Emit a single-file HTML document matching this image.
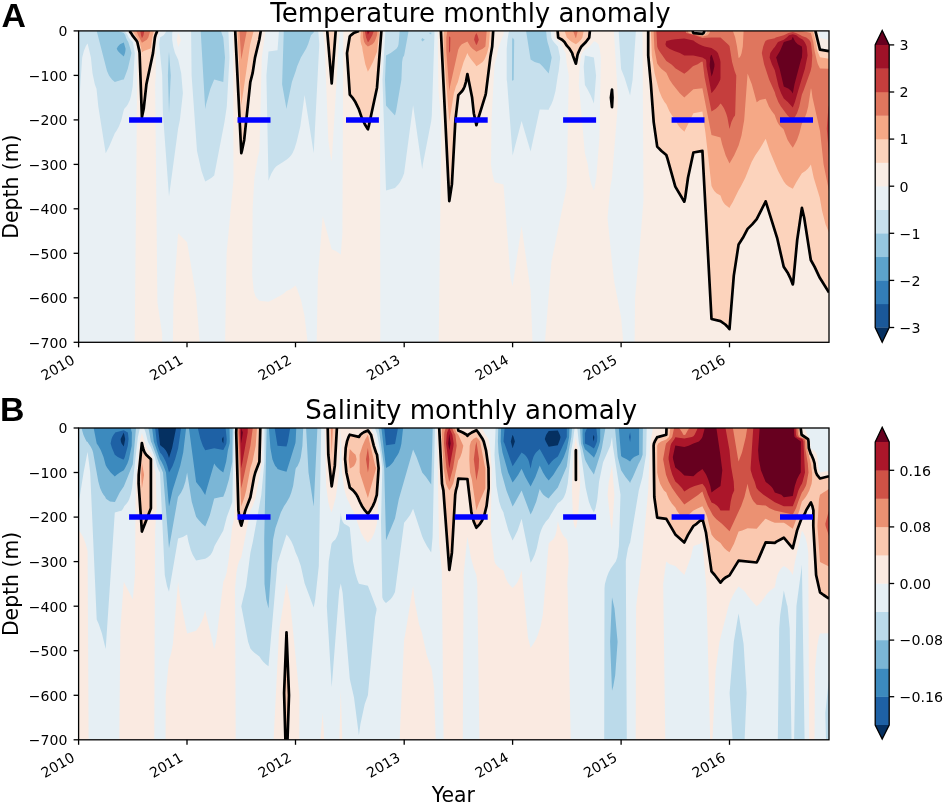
<!DOCTYPE html>
<html lang="en"><head><meta charset="utf-8"><title>Temperature and salinity monthly anomaly</title>
<style>html,body{margin:0;padding:0;background:#fff}svg{display:block}</style></head>
<body>
<svg width="945" height="804" viewBox="0 0 945 804" font-family="'DejaVu Sans','Liberation Sans',sans-serif" fill="#000">
<defs>
<clipPath id="clipA"><rect x="78.6" y="30.9" width="750.4" height="311.4"/></clipPath>
<clipPath id="clipB"><rect x="78.6" y="428.0" width="750.4" height="311.8"/></clipPath>
</defs>
<rect width="945" height="804" fill="#fff"/>
<g clip-path="url(#clipA)">
<rect x="78.6" y="30.9" width="750.4" height="311.4" fill="#f9ede5"/>
<path d="M78.6,30.9 126.6,30.9 128.7,33.1 131.5,37.6 133.6,39.8 135.1,42 136.9,50.9 137.2,53.1 136.6,142.1 134.7,342.3 78.6,342.3 78.6,33.1ZM159.4,33.1 160,32 161,30.9 233.1,30.9 233.5,179.9 226.6,253.3 225.1,342.3 199.7,342.3 196,295.6 187.1,242.2 178.1,233.3 173.5,297.8 172.9,342.3 162.2,342.3 162.1,333.4 157.4,302.3 155.1,84.3 155.8,75.4 155.7,62 156.6,44.2 157.4,37.6 158.3,35.3ZM178.1,33.1 176.7,39.8 178.1,47 178.5,46.5 180.3,42 181,39.8 179.3,35.3ZM265.6,30.9 322.7,30.9 324.7,44.2 328.3,139.9 330.4,155.5 331.7,161.5 339.6,30.9 343.3,30.9 342.4,233.3 340.8,254.8 339.1,253.3 335.9,251.1 331.7,249.3 322.7,216.3 317.9,275.6 316.7,342.3 307.6,342.3 304.5,315.6 301,300 297.1,288.9 295.6,285.5 291,288.9 286.5,291.1 283.8,293.4 280.6,295.6 272.2,300 268.5,301.8 259.4,300.7 256.5,297.8 255.2,295.6 253.8,291.1 252.2,275.6 252.6,208.8 254.4,177.7 257.7,157.7 259.4,151 261.8,57.6 265.3,33.1ZM383.4,30.9 437.6,30.9 438.5,91 441.4,124.3 438.7,342.3 380.3,342.3 380,79.8 383.2,33.1ZM504,30.9 554.2,30.9 554.6,37.6 556.4,39.8 559.3,42 561.3,44.2 562.6,46.5 564.4,50.9 565.6,53.1 566.8,64.3 568.8,75.4 566.7,186.6 551.4,262.2 544.9,342.3 532.5,342.3 530.6,290.8 521.6,226.3 512.6,286.3 510.5,277.8 503.5,184.4 494.5,182.2 492.3,173.3 491,164.4 491.5,119.9 494.5,64.3 496.6,57.6 498.2,48.7 502.1,37.6 503.5,34.5 503.7,33.1ZM613.9,30.9 642.5,30.9 643.5,199.9 640.5,237.8 635.1,297.8 634.6,342.3 623.3,342.3 621.1,317.5 614.3,282.2 612,262.2 607.5,217.7 610.4,186.6 612,177.7 617.7,106.5 617.9,97.6 614,33.1ZM818.3,30.9 829,30.9 829,40 820,38.1 818.9,33.1ZM593.3,42 593.9,41.2 595.9,42 598.5,44.2 599.7,48.7 600.9,57.6 599.4,137.7 596.3,177.7 593.9,190.4 591.4,184.4 589.2,175.5 587.8,164.4 584.9,153.2 578.8,84.3 579.8,64.3 581.2,55.4 582.3,53.1 584.9,49.5 586.6,48.7 589.6,46.5 591.6,44.2Z" fill="#e9f0f4" fill-rule="evenodd"/>
<path d="M78.6,30.9 123.8,30.9 126.2,33.1 127.7,35.3 128.7,37.6 130.5,39.8 132.9,42 134.8,53.1 132.7,86.5 131.1,95.4 129.9,99.9 127.9,104.3 126.4,106.5 124.3,108.8 123.5,111 121.4,119.9 118.9,126.5 116.4,131 114.8,133.2 109.2,146.6 105.7,153.2 98.3,106.5 96.5,88.7 94.8,84.3 92.5,73.2 90.9,57.6 87.6,43.6 87,44.2 85.7,46.5 83.9,50.9 82.2,57.6 78.6,111 78.6,33.1ZM166.4,30.9 172.8,30.9 172.2,33.1 172.2,39.8 173.2,46.5 175,53.1 178.2,59.8 181.2,73.2 182.9,93.2 179.9,119.9 178.1,128.8 169,196.6 162.9,113.2 162.2,75.4 159.2,44.2 160,37.6 163.6,35.3 165.3,33.1ZM191.1,30.9 228.4,30.9 229.5,57.6 226.8,106.5 224.5,122.1 214.2,175.5 211.6,177.7 208,179.9 205.2,181.4 201.5,171 197,151 191.6,75.4 191.1,33.1ZM278.9,30.9 318.3,30.9 319.3,44.2 313.7,153.2 304.6,95 300.3,126.5 296.6,142.1 294.5,148.8 292.5,153.2 291,155.5 288.9,157.7 286.5,159.7 286,159.9 283.1,162.1 277.5,165.4 276.1,166.6 274.2,168.8 271.5,173.3 269.6,177.7 268.5,180.7 266.4,75.4 268.5,51.4 277.5,50.3 278.8,33.1ZM385.4,30.9 434.2,30.9 434.5,33.1 431.8,115.4 431.2,121.3 422.8,164.4 422.2,169.3 413.1,105.3 404.1,173.3 402.4,177.7 400,182.2 398.3,184.4 395,187.9 386,190.5 382.5,79.8 385.3,33.1ZM509.1,30.9 550.8,30.9 551.3,37.6 552.2,39.8 553.8,42 557.9,46.5 560.2,57.6 558.7,70.9 557.8,75.4 555.5,91 553.1,99.9 551.4,104.3 549,108.8 548.7,109.7 539.7,109.6 530.6,151.5 521.6,120.9 512.6,155.5 507.1,82.1 506.7,79.8 506.7,48.7 507.5,39.8 508.6,33.1ZM618.7,30.9 635.9,30.9 632.6,79.8 630.1,95.4 624.5,77.6 621.1,69.1 618.8,33.1ZM584.9,55.4 584.9,55.4 593.9,57.6 596.1,75.4 593.9,103.4 590.7,95.4 587.2,88.7 584.9,85.1 583.7,66.5 584.7,57.6Z" fill="#c7e0ed" fill-rule="evenodd"/>
<path d="M96.7,30.9 118.5,30.9 123.8,33.1 125.3,35.3 125.9,37.6 126.9,39.8 128.3,42 130.4,48.7 131.5,53.1 127.8,68.7 123.8,79.5 122,79.8 114.8,82.1 114.8,82.1 112.2,79.8 110.4,77.6 109,75.4 107,70.9 96.7,30.9ZM200.7,30.9 221,30.9 222.4,35.3 223.3,37.6 225,57.6 223.3,82.1 214.2,79.4 210.4,88.7 206.1,104.3 205.2,109 200.8,33.1ZM283.7,30.9 313.9,30.9 313.7,32.4 311,35.3 308.1,44.2 306.1,48.7 300.9,57.6 297.1,66.5 295.6,71.4 291.9,82.1 286.9,106.5 286.5,108.9 282.1,84.3 283.7,33.1ZM399.6,30.9 408.6,30.9 404.6,53.1 404.1,55.4 402.9,57.6 402.1,62 401.4,79.8 396.1,111 395,115.4 388.8,108.8 386,105.4 385,79.8 386,55.4 390.7,53.1 396.4,48.7 397.9,46.5 398.5,44.2 399.5,33.1ZM428.8,33.1 431.2,32.4 431.4,33.1 431.2,34.6ZM526.1,30.9 546.1,30.9 546.7,37.6 547.5,42 548.9,46.5 551.7,57.6 548.7,73.5 542.7,66.5 539.7,63.5 534.6,62 530.6,59.5 526.4,33.1ZM512.6,37.6 512.6,37.6 514.2,39.8 513.7,79.8 512.6,80.9 512,79.8 512.1,39.8ZM421.3,39.8 422.2,38 424.8,39.8 422.2,41.6ZM168.9,53.1 169,51.9 170.8,75.4 169,113.2 167.9,75.4 168.7,55.4Z" fill="#96c7df" fill-rule="evenodd"/>
<path d="M539.7,30.9 539.7,30.9 539.7,30.9 539.7,30.9ZM120,44.2 123.8,42.4 125.6,48.7 125.4,50.9 125,53.1 123.8,56.4 119.8,53.1 117.9,50.9 116.7,48.7 117.9,46.5Z" fill="#5ca3cb" fill-rule="evenodd"/>
<path d="M129.5,30.9 157.3,30.9 155.5,35.3 154.9,37.6 153,53.1 146.4,84.3 143.7,108.8 141.9,117.2 139.6,53.1 139.3,50.9 137.3,42 135.9,39.8 132.4,35.3 131.1,33.1ZM235.2,30.9 260.8,30.9 259.3,39.8 255,57.6 252.6,73.2 250.3,82.1 244.2,139.9 241.9,151 241.3,153.2 235.3,33.1ZM327.2,30.9 335.7,30.9 331.7,83.5 327.5,33.1ZM353.6,33.1 358.9,30.9 381.4,30.9 377,87.7 368.7,126.5 367.9,129.3 364.8,124.3 361.7,117.6 358.7,108.8 355.4,102.1 352.4,97.6 349.8,94.7 347,53.1 349.8,36.3 350.7,35.3ZM440.9,30.9 493.2,30.9 492.2,46.5 490.3,57.6 485.9,93.2 485.4,95.4 477.8,119.9 476.4,125.1 473.8,113.2 472.1,97.6 467.4,74 465.9,82.1 464.6,86.5 463.6,88.7 462.2,91 458.3,95.1 455.4,119.9 451.9,184.4 449.3,201.1 440.9,33.1ZM557.6,30.9 589.9,30.9 589.2,37.6 585.9,42 581.4,46.5 580.1,48.7 578.1,53.1 577.4,55.4 575.9,63.7 572.8,55.4 572.2,53.1 569.5,48.7 566.8,45.7 564.5,42 562.1,39.8 558.2,37.6 557.7,33.1ZM648.2,30.9 692.5,30.9 693.4,33.1 702.4,33.8 703.5,33.1 704.6,30.9 815.4,30.9 820,49.7 829,51.2 829,292.5 819.8,277.8 814.5,266.7 810.8,260 804.2,217.7 801.9,207.9 797.2,240 793.2,282.2 792.8,284.5 790.2,277.8 788,273.3 783.7,266.7 777.1,237.8 765.7,201.3 756.7,219.1 752.2,224.4 747.6,228.9 742.9,237.8 738.6,244.4 733.8,275.6 729.5,329.2 727.5,326.7 725.3,324.5 720.5,321.1 711.5,319 702.4,150.8 693.4,152.5 688,177.7 685.2,197.7 684.3,201.7 675.3,186.6 667.2,157.7 666.3,155 661.5,151 657.2,146.6 653.7,122.1 650.9,84.3 648.2,55.4 648.2,33.1ZM611.8,91 612,89.6 612.5,97.6 612,107.2 610.9,97.6 611.4,93.2Z" fill="#fcd3bc" fill-rule="evenodd"/>
<path d="M132.3,30.9 153.9,30.9 152.3,37.6 150.9,48.1 150,48.7 143.6,50.9 141.9,52.4 141.8,50.9 139.5,42 133.9,33.1 132.8,31.8ZM237.3,30.9 253.7,30.9 250.2,44.2 241.3,105.2 237.4,33.1ZM360.9,30.9 379.4,30.9 377,51.7 373,62 369.6,68.7 368.2,70.9 367.9,71.8 365.3,64.3 362.7,50.9 362.1,46.5 361.2,44.2 360.7,42 360.3,37.6 360.7,33.1ZM444.1,30.9 490,30.9 488.8,46.5 487.1,53.1 485.4,57.6 484.3,59.8 482.6,62 479.5,64.3 476.4,66.2 475.1,64.3 471.4,59.8 468.5,55.4 467.4,53.1 463.6,62 460.2,73.2 457.9,82.1 455.9,86.5 453.9,93.2 449.3,121.7 443.7,50.9 443.6,37.6 443.9,33.1ZM564.6,30.9 583.7,30.9 582.4,37.6 581,39.8 578.8,42 575.9,44.2 572,42 569.1,39.8 566.8,37.6 565.3,33.1ZM650.9,30.9 690.2,30.9 691,33.1 693.4,33.8 702.4,35.5 703.2,35.3 706.5,33.1 707.4,30.9 812.6,30.9 813.6,33.1 815.8,42 817.4,50.9 820,57.3 829,58.7 829,232.6 825.6,224.4 822.1,211.1 819.8,197.7 813.7,177.7 810.9,164.4 809.6,166.6 807.8,168.8 805.4,171 801.9,173.3 796.3,182.2 792.8,188.8 788.6,186.6 786.1,184.4 783.8,181.5 778.1,171 769.7,151 765.7,138.8 759.8,148.8 755.2,155.5 751.6,162.1 745.3,177.7 740.8,186.6 738.2,191 732.7,202.2 730.1,206.6 729.5,208.1 725,204.4 723.3,202.2 722.1,199.9 720.5,195.5 716.5,193.3 714.3,191 712.9,188.8 711.5,185.9 705.5,133.2 702.4,111.6 693.4,113.2 685.8,128.8 684.3,131.8 683.7,131 681.1,128.8 679.1,126.5 677.6,124.3 675.3,119.6 672,115.4 669.3,111 666.3,104.3 664.5,102.1 661.9,97.6 659.2,91 654.6,73.2 651.8,55.4 651,33.1Z" fill="#f5a886" fill-rule="evenodd"/>
<path d="M136.1,30.9 150.3,30.9 148.3,37.6 146.8,39.8 141.9,42.8 141.6,42 138.1,35.3 137.3,33.1ZM239.4,30.9 246.8,30.9 241.3,59.5 239.6,33.1ZM362.9,30.9 377.4,30.9 377,35.3 375.4,39.8 374.4,42 372.4,44.2 367.9,46.5 365.5,44.2 364.2,42 363.2,37.6 363,33.1ZM447.3,30.9 486.7,30.9 485.4,46.5 482.7,48.7 477.9,50.9 476.4,51.8 475.6,50.9 472.5,48.7 470.4,46.5 467.4,41.4 461.8,44.2 459.8,46.5 458.3,49.5 450,86.5 449.3,91.3 446.3,50.9 446.3,37.6 447,33.1ZM573.1,30.9 577.7,30.9 576.2,37.6 575.9,38.1 575.4,37.6 573.9,33.1ZM653.7,30.9 688,30.9 688.5,33.1 693.4,34.4 698.5,35.3 702.4,36.6 707.7,35.3 709.5,33.1 710.1,30.9 732.9,30.9 735.2,37.6 737,46.5 738.6,58 739.5,57.6 740.8,55.4 741.6,53.1 742.8,46.5 743.6,30.9 801.9,30.9 810.9,33.1 813.3,42 814.6,50.9 817.2,62 817.9,64.3 820,68.4 829,68.7 829,191 823.6,164.4 820,131 812.5,97.6 811.6,91 811.2,88.7 810.9,88.4 808.2,106.5 806.5,113.2 804.9,117.6 801.7,124.3 799.4,133.2 797,139.9 794.8,144.3 792.8,147.7 790.3,144.3 787.6,139.9 785,133.2 783.8,129.7 783.1,128.8 780.5,126.5 778.7,124.3 777.4,122.1 775.6,117.6 774.8,114.9 771.7,111 768.9,106.5 765.7,98.7 759.9,99.9 756.7,102.3 751.8,84.3 747.6,73.6 744.2,119.9 741.5,135.4 738.6,145.4 734.1,155.5 729.5,163.6 725.7,155.5 722.1,144.3 720.5,137.4 711.5,134.9 702.4,88.2 693.4,89.2 684.3,97.6 679.8,93.2 672.6,84.3 669.6,79.8 666.3,72.7 661.3,68.7 659.3,66.5 657.2,63.5 654.4,48.7 653.7,33.1Z" fill="#df765e" fill-rule="evenodd"/>
<path d="M140.2,30.9 144.3,30.9 143.5,35.3 142.4,37.6 141.9,38 141,35.3 140.7,33.1ZM364.9,30.9 373.8,30.9 372.3,35.3 369.8,39.8 368.3,42 367.9,42.3 366.1,37.6 365.2,33.1ZM656.4,30.9 685.7,30.9 686.1,33.1 695.1,35.3 702.4,38 711.5,37.6 720.5,37.6 727.9,44.2 729.5,46 732.1,62 734.6,70.9 736.3,75.4 735.2,113.2 735,115.4 733.5,117.6 731.4,122.1 729.5,129 727.4,117.6 726.1,113.2 724.2,108.8 722.9,106.5 721.3,104.3 720.5,103.6 718.2,106.5 715.8,108.8 711.5,111.5 704.6,77.6 702.7,62 702.4,61.4 701,62 697.7,64.3 693.4,66 692.6,66.5 687.9,70.9 684.3,73.7 675.3,68.3 673.7,66.5 671.2,64.3 666.3,61 659.3,50.9 658,48.7 657.2,46.5 656.5,33.1ZM788.4,33.1 792.8,32.1 796,33.1 800.8,35.3 801.9,36.1 806.3,37.6 809.1,39.8 810.6,42 811.1,44.2 812.3,55.4 811.6,66.5 810.6,70.9 803.4,91 801.9,94.4 799.3,106.5 797,113.2 794.7,117.6 792.8,120.6 792.3,119.9 789.7,117.6 787.6,115.4 780.9,106.5 778.3,102.1 775.7,95.4 774.8,92.3 769.2,79.8 764.1,64.3 761.8,53.1 763.2,46.5 764.9,42 765.7,40.8 767.7,39.8 774.8,38.2 775.7,37.6 783.8,35.3ZM475.2,35.3 476.4,33.1 477.5,35.3 478.8,39.8 477,44.2 476.4,44.9 475.9,44.2 474.1,39.8 474.5,37.6ZM449,37.6 449.3,36.2 450.4,37.6 450.1,50.9 449.3,53.1 449,50.9 449,39.8ZM828.7,106.5 829,105.6 829,155.5 826.8,128.8 828.1,111 828.4,108.8Z" fill="#c53e3d" fill-rule="evenodd"/>
<path d="M366.9,30.9 369.9,30.9 367.9,34.8 367.4,33.1ZM789,35.3 792.8,34.2 796.3,35.3 799,37.6 802.9,39.8 804.6,42 805.8,44.2 806.7,46.5 807.6,55.4 804.9,68.7 801.5,79.8 798.1,91 794.9,102.1 792.8,107.4 787.8,102.1 783.8,98.5 781.1,93.2 778.6,86.5 774.8,70.3 771.9,64.3 769.6,57.6 770.3,53.1 773.2,48.7 774.8,47.1 778,42 783.8,39.8 786.7,37.6ZM671.8,39.8 675.3,39.2 684.3,38.5 693.4,40.6 695.3,42 699,44.2 702.4,45.8 704.5,46.5 711.5,48 716.1,50.9 717.9,53.1 720.1,59.8 720.5,62 720.5,77.6 720.3,79.8 718,84.3 715.2,88.7 711.5,93.2 706.5,66.5 706.3,62 706,59.8 702.4,57.6 693.4,55.4 684.3,55.4 679.9,53.1 674.3,50.9 669.4,48.7 666.3,46.5 665.4,44.2 666.3,41Z" fill="#9f1228" fill-rule="evenodd"/>
<path d="M792.4,37.6 792.8,37.1 793.2,37.6 794.2,39.8 795.5,42 797.7,44.2 801.9,46.5 802.3,50.9 801.9,57.6 801,59.8 794.5,84.3 792.8,93.4 791.2,91 788.7,88.7 783.8,86.5 779.6,68.7 777.4,62 776.9,59.8 776.1,57.6 780,50.9 782.9,44.2 783.8,42 791.6,39.8ZM710.8,55.4 711.5,54.7 711.9,55.4 714,62 714.5,64.3 714.4,66.5 712.8,73.2 711.5,76.6 709.8,66.5 709.7,64.3 710.2,59.8 710.1,57.6Z" fill="#67001f" fill-rule="evenodd"/>
<path d="M157.3,30.9 155.5,35.3 154.9,37.6 153,53.1 146.4,84.3 143.7,108.8 141.9,117.2 139.6,53.1 139.3,50.9 137.3,42 135.9,39.8 132.4,35.3 131.1,33.1 129.5,30.9M260.8,30.9 259.3,39.8 255,57.6 252.6,73.2 250.3,82.1 244.2,139.9 241.9,151 241.3,153.2 235.2,30.9M335.7,30.9 331.7,83.5 327.2,30.9M381.4,30.9 377,87.7 368.7,126.5 367.9,129.3 364.8,124.3 361.7,117.6 358.7,108.8 355.4,102.1 352.4,97.6 349.8,94.7 347,53.1 349.8,36.3 350.7,35.3 353.6,33.1 358.9,30.9M493.2,30.9 492.2,46.5 490.3,57.6 485.9,93.2 485.4,95.4 477.8,119.9 476.4,125.1 473.8,113.2 472.1,97.6 467.4,74 465.9,82.1 464.6,86.5 463.6,88.7 462.2,91 458.3,95.1 455.4,119.9 451.9,184.4 449.3,201.1 440.9,30.9M589.9,30.9 589.2,37.6 585.9,42 581.4,46.5 580.1,48.7 578.1,53.1 577.4,55.4 575.9,63.7 572.8,55.4 572.2,53.1 569.5,48.7 566.8,45.7 564.5,42 562.1,39.8 558.2,37.6 557.6,30.9M692.5,30.9 693.4,33.1 702.4,33.8 703.5,33.1 704.6,30.9M815.4,30.9 820,49.7 829,51.2M611.8,91 612,89.6 612.5,97.6 612,107.2 610.9,97.6 611.8,91M829,292.5 819.8,277.8 814.5,266.7 810.8,260 804.2,217.7 801.9,207.9 797.2,240 793.2,282.2 792.8,284.5 790.2,277.8 788,273.3 783.7,266.7 777.1,237.8 765.7,201.3 756.7,219.1 752.2,224.4 747.6,228.9 742.9,237.8 738.6,244.4 733.8,275.6 729.5,329.2 727.5,326.7 725.3,324.5 720.5,321.1 711.5,319 702.4,150.8 693.4,152.5 688,177.7 685.2,197.7 684.3,201.7 675.3,186.6 667.2,157.7 666.3,155 661.5,151 657.2,146.6 653.7,122.1 650.9,84.3 648.2,55.4 648.2,30.9" fill="none" stroke="#000" stroke-width="2.7" stroke-linejoin="round"/>
<line x1="129.1" y1="119.9" x2="162.1" y2="119.9" stroke="#0000ff" stroke-width="5.5"/>
<line x1="237.5" y1="119.9" x2="270.5" y2="119.9" stroke="#0000ff" stroke-width="5.5"/>
<line x1="346.0" y1="119.9" x2="378.9" y2="119.9" stroke="#0000ff" stroke-width="5.5"/>
<line x1="454.7" y1="119.9" x2="487.7" y2="119.9" stroke="#0000ff" stroke-width="5.5"/>
<line x1="563.1" y1="119.9" x2="596.1" y2="119.9" stroke="#0000ff" stroke-width="5.5"/>
<line x1="671.6" y1="119.9" x2="704.5" y2="119.9" stroke="#0000ff" stroke-width="5.5"/>
<line x1="780.0" y1="119.9" x2="813.0" y2="119.9" stroke="#0000ff" stroke-width="5.5"/>
</g>
<rect x="78.6" y="30.9" width="750.4" height="311.4" fill="none" stroke="#000" stroke-width="1.3"/>
<line x1="73.6" y1="30.9" x2="78.6" y2="30.9" stroke="#000" stroke-width="1.3"/>
<text x="67.4" y="36.2" text-anchor="end" font-size="14.05">0</text>
<line x1="73.6" y1="75.4" x2="78.6" y2="75.4" stroke="#000" stroke-width="1.3"/>
<text x="67.4" y="80.7" text-anchor="end" font-size="14.05">−100</text>
<line x1="73.6" y1="119.9" x2="78.6" y2="119.9" stroke="#000" stroke-width="1.3"/>
<text x="67.4" y="125.2" text-anchor="end" font-size="14.05">−200</text>
<line x1="73.6" y1="164.4" x2="78.6" y2="164.4" stroke="#000" stroke-width="1.3"/>
<text x="67.4" y="169.7" text-anchor="end" font-size="14.05">−300</text>
<line x1="73.6" y1="208.8" x2="78.6" y2="208.8" stroke="#000" stroke-width="1.3"/>
<text x="67.4" y="214.1" text-anchor="end" font-size="14.05">−400</text>
<line x1="73.6" y1="253.3" x2="78.6" y2="253.3" stroke="#000" stroke-width="1.3"/>
<text x="67.4" y="258.6" text-anchor="end" font-size="14.05">−500</text>
<line x1="73.6" y1="297.8" x2="78.6" y2="297.8" stroke="#000" stroke-width="1.3"/>
<text x="67.4" y="303.1" text-anchor="end" font-size="14.05">−600</text>
<line x1="73.6" y1="342.3" x2="78.6" y2="342.3" stroke="#000" stroke-width="1.3"/>
<text x="67.4" y="347.6" text-anchor="end" font-size="14.05">−700</text>
<line x1="78.6" y1="342.3" x2="78.6" y2="347.3" stroke="#000" stroke-width="1.3"/>
<text transform="translate(75.7,362.9) rotate(-30)" text-anchor="end" font-size="14.05">2010</text>
<line x1="187.0" y1="342.3" x2="187.0" y2="347.3" stroke="#000" stroke-width="1.3"/>
<text transform="translate(184.1,362.9) rotate(-30)" text-anchor="end" font-size="14.05">2011</text>
<line x1="295.5" y1="342.3" x2="295.5" y2="347.3" stroke="#000" stroke-width="1.3"/>
<text transform="translate(292.6,362.9) rotate(-30)" text-anchor="end" font-size="14.05">2012</text>
<line x1="404.2" y1="342.3" x2="404.2" y2="347.3" stroke="#000" stroke-width="1.3"/>
<text transform="translate(401.3,362.9) rotate(-30)" text-anchor="end" font-size="14.05">2013</text>
<line x1="512.6" y1="342.3" x2="512.6" y2="347.3" stroke="#000" stroke-width="1.3"/>
<text transform="translate(509.7,362.9) rotate(-30)" text-anchor="end" font-size="14.05">2014</text>
<line x1="621.1" y1="342.3" x2="621.1" y2="347.3" stroke="#000" stroke-width="1.3"/>
<text transform="translate(618.2,362.9) rotate(-30)" text-anchor="end" font-size="14.05">2015</text>
<line x1="729.5" y1="342.3" x2="729.5" y2="347.3" stroke="#000" stroke-width="1.3"/>
<text transform="translate(726.6,362.9) rotate(-30)" text-anchor="end" font-size="14.05">2016</text>
<text transform="translate(18.3,186.6) rotate(-90)" text-anchor="middle" font-size="20.4">Depth (m)</text>
<text x="470.5" y="21.6" text-anchor="middle" font-size="26">Temperature monthly anomaly</text>
<text x="1.6" y="27.1" font-size="33.8" font-weight="bold" font-family="'Liberation Sans',Arial,Helvetica,sans-serif">A</text>
<rect x="875.2" y="303.75" width="14.0" height="23.95" fill="#1a5899"/>
<rect x="875.2" y="280.20" width="14.0" height="23.95" fill="#337eb8"/>
<rect x="875.2" y="256.65" width="14.0" height="23.95" fill="#5ca3cb"/>
<rect x="875.2" y="233.10" width="14.0" height="23.95" fill="#96c7df"/>
<rect x="875.2" y="209.55" width="14.0" height="23.95" fill="#c7e0ed"/>
<rect x="875.2" y="186.00" width="14.0" height="23.95" fill="#e9f0f4"/>
<rect x="875.2" y="162.45" width="14.0" height="23.95" fill="#f9ede5"/>
<rect x="875.2" y="138.90" width="14.0" height="23.95" fill="#fcd3bc"/>
<rect x="875.2" y="115.35" width="14.0" height="23.95" fill="#f5a886"/>
<rect x="875.2" y="91.80" width="14.0" height="23.95" fill="#df765e"/>
<rect x="875.2" y="68.25" width="14.0" height="23.95" fill="#c53e3d"/>
<rect x="875.2" y="44.70" width="14.0" height="23.95" fill="#9f1228"/>
<path d="M875.2,44.9 L882.2,30.5 L889.2,44.9 Z" fill="#67001f"/>
<path d="M875.2,327.5 L882.2,342.3 L889.2,327.5 Z" fill="#053061"/>
<path d="M875.2,44.9 L882.2,30.5 L889.2,44.9 L889.2,327.5 L882.2,342.3 L875.2,327.5 Z" fill="none" stroke="#000" stroke-width="1.3" stroke-linejoin="miter"/>
<line x1="889.2" y1="44.9" x2="894.2" y2="44.9" stroke="#000" stroke-width="1.3"/>
<text x="899.5" y="50.2" font-size="14.2">3</text>
<line x1="889.2" y1="92.0" x2="894.2" y2="92.0" stroke="#000" stroke-width="1.3"/>
<text x="899.5" y="97.3" font-size="14.2">2</text>
<line x1="889.2" y1="139.1" x2="894.2" y2="139.1" stroke="#000" stroke-width="1.3"/>
<text x="899.5" y="144.4" font-size="14.2">1</text>
<line x1="889.2" y1="186.2" x2="894.2" y2="186.2" stroke="#000" stroke-width="1.3"/>
<text x="899.5" y="191.5" font-size="14.2">0</text>
<line x1="889.2" y1="233.3" x2="894.2" y2="233.3" stroke="#000" stroke-width="1.3"/>
<text x="899.5" y="238.6" font-size="14.2">−1</text>
<line x1="889.2" y1="280.4" x2="894.2" y2="280.4" stroke="#000" stroke-width="1.3"/>
<text x="899.5" y="285.7" font-size="14.2">−2</text>
<line x1="889.2" y1="327.5" x2="894.2" y2="327.5" stroke="#000" stroke-width="1.3"/>
<text x="899.5" y="332.8" font-size="14.2">−3</text>
<g clip-path="url(#clipB)">
<rect x="78.6" y="428.0" width="750.4" height="311.8" fill="#faeae1"/>
<path d="M78.6,428 235.1,428 234.7,510.4 233.9,519.3 233,523.8 232.3,526 228.7,559.4 226.6,572.8 225.3,577.2 223.3,581.7 216.4,639.6 214.2,649.5 205.2,610.6 203.3,617.3 201.6,621.8 199.3,626.2 196.1,630.7 187.1,633.5 180,597.3 178.1,581.7 172.9,644 171.2,652.9 169.9,657.4 169,659.6 165.7,695.3 165.6,739.8 154.3,739.8 155.1,530.4 156.6,508.2 155.6,472.5 154.4,468.1 153.2,459.2 152.6,457 150.9,452.9 148.5,450.3 147.2,448 144.6,441.4 141.9,432.9 139.7,441.4 135.7,483.7 135,575 132.8,599.5 123.8,581.7 120.4,628.4 119.3,739.8 88.6,739.8 87.6,551.2 85.7,543.8 83.1,537.1 80.6,532.7 79,530.4 78.6,530.3 78.6,430.2ZM262.4,428 324.6,428 326.2,485.9 328.2,501.5 329.9,508.2 331.7,512.6 335.8,497 339.2,472.5 340.8,428 342.1,472.5 344.1,488.1 345.8,494.8 347.4,499.3 353.8,512.6 358.7,526 361,532.7 363.4,537.1 364.9,539.4 367.9,542.7 370.9,539.4 372.4,537.1 374.4,532.7 376.3,526 377,523 380.5,468.1 378.9,454.7 374.1,434.7 371.7,430.2 371.1,428 437,428 439.1,543.8 441.8,570.5 443.6,739.8 435.7,739.8 434.1,688.6 431.9,670.8 431.2,667.4 426.8,655.2 422,632.9 419,624 414.8,601.7 413.1,586.1 405.1,635.1 404.1,639.6 399.6,739.8 342.3,739.8 340.8,690.8 339.3,739.8 324.2,739.8 322.7,713.1 320.4,739.8 299.2,739.8 299.4,695.3 290.1,601.7 286.5,583.5 279.1,630.7 273.6,739.8 235.7,739.8 235,588.4 236.4,572.8 237.7,566.1 239,561.6 240,559.4 241.3,557.2 250.4,510.4 252.7,505.9 255.2,499.3 259.4,477 261.7,463.6 262.4,430.2ZM482.3,428 653.1,428 650.1,443.6 648.2,490.4 641.3,563.9 636.1,606.2 635.7,739.8 570.7,739.8 567.6,588.4 567.3,583.9 568.6,561.6 567.9,546 567.4,541.6 566.8,539.4 564.6,537.1 562.9,534.9 560.6,530.4 558.5,523.8 558,521.5 557.8,521.4 556.6,530.4 555.5,534.9 554.6,537.1 553.1,539.4 550.5,541.6 548.7,543.4 542.8,615.1 540.6,626.2 537.8,635.1 535.9,639.6 533.3,644 530.6,647.9 528,637.4 521.6,570.5 519.7,577.2 517.7,581.7 516.2,583.9 512.6,587.9 508.9,583.9 507.4,581.7 505.4,577.2 503.5,570.5 499.5,568.3 497.2,566.1 495.6,563.9 494.5,561.6 490.8,530.4 491.6,468.1 490.3,448 489,441.4 488.3,439.1 487.2,436.9 485.4,434.5 483.2,430.2ZM575.9,436.4 573.5,450.3 571.9,488.1 572.9,517.1 573.8,523.8 574.4,526 575.9,528.8 578.1,517.1 580.2,481.5 578.2,450.3 576.5,441.4 575.9,436.9ZM612,465.2 609.4,479.2 608.8,481.5 607.6,494.8 610.7,523.8 612,530.4 614.4,494.8 612.1,465.9ZM804.3,428 829,428 829,470.8 820,472.5 820,472.5 818.5,468.1 817.7,459.2 816.9,454.7 815.9,452.5 813.6,450.3 810.9,449 810.6,448 810,439.1 808.8,436.9 807.2,434.7 805.5,430.2ZM801.9,530.4 801.9,530.4 803.3,532.7 805.3,537.1 807,543.8 808.3,552.7 809.1,739.8 712.5,739.8 715.6,670.8 719.5,641.8 728.5,606.2 729.9,601.7 733.1,595 735.7,590.6 738.6,586.5 741.2,588.4 743.7,590.6 745.7,592.8 747.6,595.7 754.5,603.9 756.7,606.2 759.2,603.9 761.3,601.7 764.6,597.3 766.1,595 768,592.8 770.3,590.6 774.8,587.3 776.2,579.4 777.5,575 778.4,572.8 779.7,570.5 781.3,568.3 783.8,566.1 783.8,566.1 787.4,568.3 789.8,570.5 791.5,572.8 792.8,575 795,561.6 801.5,532.7ZM467.4,537.1 467.4,537.1 470.8,557.2 473.8,568.3 476.4,575 477.3,583.9 479.4,739.8 462.8,739.8 463.6,575 467,539.4ZM702.4,541.6 702.4,541.6 706.4,588.4 710.2,739.8 665.3,739.8 663.2,583.9 665.8,563.9 666.3,561.6 666.3,561.6 669.3,563.9 675.3,566.1 684.3,575 690.8,557.2 693.4,546 700.3,543.8ZM819.4,635.1 820,633.6 829,633.3 829,739.8 814.5,739.8 815,668.5 817.1,646.3 818.8,637.4Z" fill="#e6eff4" fill-rule="evenodd"/>
<path d="M78.6,428 139.9,428 137.9,436.9 132.1,488.1 130.7,494.8 129.2,499.3 128.1,501.5 126.5,503.7 124.4,505.9 123.3,508.2 121.8,510.4 114.8,512.6 105.7,649.1 101.8,632.9 98.7,624 96.7,619.5 90.2,472.5 87.6,452.3 87.4,452.5 83.6,472.5 78.6,503.7 78.6,503.7 78.6,430.2ZM144,428 233.9,428 232.3,502.1 226.8,517.1 223.3,530.4 214.5,546 213,550.5 211.9,552.7 210.4,554.9 207.8,557.2 205.2,558.8 201.1,559.4 196.1,560.6 192.8,554.9 190.9,550.5 188.4,541.6 187.1,534.6 182.9,537.1 178.1,538.5 169,591.7 167,586.1 164.8,575 160,472.5 158.7,470.3 157,465.9 154.8,457 150.9,447.3 148.8,443.6 147.8,441.4 145.6,432.5 144.8,430.2ZM264.5,428 321.2,428 318.8,566.1 315.2,599.5 313.7,607.5 304.6,583.3 300.8,566.1 297.8,557.2 295.6,552.4 293.4,546 291.4,541.6 288.6,537.1 286.5,534.6 278.7,559.4 277.5,562.9 268.5,666.3 265.5,664.1 263.2,661.8 261.4,659.6 259.4,656.6 254.7,652.9 252.3,650.7 250.4,648.5 248.1,641.8 241.3,606.2 246.1,586.1 250.4,552.7 252.9,541.6 261.3,494.8 264.4,461.4 264.5,430.2ZM375,428 434.9,428 432.6,537.1 431.2,552.4 426.9,546 423.5,539.4 422.2,536.4 413.1,508.7 410.1,514.9 407,519.3 404.1,522.8 395,591.9 393.5,595 392.2,597.3 390.3,599.5 386,603 384.6,601.7 383,599.5 382.3,597.3 381,521.5 382.3,468.1 380.9,454.7 377,433.9 375.7,430.2ZM495.6,428 574.6,428 572.9,441.4 571.2,450.3 567.7,483.7 565.8,492.6 564,497 562.6,499.3 560.4,501.5 557.8,503.3 550.6,514.9 548.7,518.5 545.9,521.5 543,526 541,530.4 539.6,534.9 536.8,548.3 534.6,554.9 532.5,559.4 530.6,562.8 521.6,518.7 517.6,530.4 514.4,537.1 512.6,540.4 508.4,530.4 504,514.9 503.5,512.6 501.3,508.2 499.1,501.5 496.4,485.9 494.5,454.7 495.5,430.2ZM577.2,428 646.7,428 646.1,454.7 642.4,477 638.8,490.4 630.1,542.8 629.5,543.8 628,548.3 626,559.4 625.8,561.6 626.8,739.8 604.2,739.8 604.5,588.4 604.9,583.9 606.8,577.2 608.5,572.8 610.9,568.3 615.8,561.6 617.3,557.2 618.9,546 620.5,494.8 612.8,445.8 612,436.9 610.3,445.8 603,462.6 599.1,481.5 597.3,499.3 595.5,508.2 593.9,512.6 591.4,508.2 588.8,501.5 585.7,488.1 580.5,450.3 578.9,443.6 577.5,430.2ZM340.8,512.6 340.8,512.6 341.3,517.1 341.8,519.3 342.6,521.5 344.1,523.8 348.1,526 349.8,527.4 353,561.6 355.2,572.8 357.2,579.4 358.9,583.7 367.9,585.7 376.6,608.4 376.5,610.6 375.1,617.3 367.9,695.3 364.7,704.2 360.4,724.2 358.9,735.3 354,697.5 349.8,679.1 342.6,592.8 340.8,583.5 339.2,590.6 331.7,686.9 326.8,606.2 328.7,561.6 331.5,543.8 333,541.6 335.3,539.4 336.7,537.1 337.6,534.9 338.9,530.4 340.7,514.9ZM801.7,566.1 801.9,565 804.6,739.8 794.1,739.8 796.4,606.2 801.5,568.3ZM783.8,590.6 783.8,590.6 786.8,603.9 787.5,606.2 789.7,628.4 791.5,739.8 777.8,739.8 779.2,628.4 780.2,615.1 783.5,592.8ZM738.3,615.1 738.6,613.6 743.6,644 746.6,693 744.6,739.8 732.6,739.8 729.6,693 733.8,641.8 737.9,617.3ZM829,679.7 829,679.7 829,739.8 826,739.8 825.3,713.1 828.6,681.9Z" fill="#bbdaea" fill-rule="evenodd"/>
<path d="M81.6,428 136,428 132.8,464.3 123.8,486.4 119.7,492.6 115.2,501.5 114.8,502 110,501.5 106.7,499.3 105.7,498.2 105.3,497 103.5,494.8 102.1,492.6 100.1,488.1 98.3,481.5 93.1,452.5 92.4,450.3 91.4,448 90.1,445.8 88.5,443.6 87.6,442 86.6,441.4 85.3,439.1 83.4,434.7 82.1,430.2ZM148.3,428 232.7,428 232.3,461.8 229,479.2 225.7,490.4 223.3,496.7 221,497 214.2,498.5 209.9,514.9 206.4,523.8 205.2,526.4 202.1,523.8 198,519.3 196.1,516.7 191.7,501.5 187.1,472.5 185.4,481.5 183.3,488.1 181.1,492.6 178,497 169,548.3 169,548.3 163,472.5 161.1,468.1 159.1,463.6 151.9,443.6 150.9,441.4 148.9,430.2ZM266.6,428 303.2,428 302.4,445.8 300.8,457 299.6,461.4 298.7,463.6 297.6,465.9 296,468.1 295.6,469.1 293.1,485.9 291.3,492.6 289.6,497 286.5,502.4 284.1,505.9 280.8,512.6 275.4,528.2 273.1,539.4 268.5,608.4 266.3,599.5 264.5,583.9 264.2,539.4 266.6,430.2ZM306.1,428 317.4,428 313.7,506.6 308.5,472.5 306.2,430.2ZM378.4,428 432.7,428 431.2,484.5 426,477 422.2,472.5 416.5,457 413.1,449.5 398.8,499.3 395,518.5 386,540.2 384.2,468.1 379.3,432.5 378.9,430.2ZM498.3,428 572,428 571.3,436.9 568.9,450.3 566.8,466.4 557.8,487.6 549.7,497 548.7,498.4 546.1,497 543.3,494.8 541.6,492.6 539.7,488.9 536.3,501.5 532.7,510.4 530.6,514.6 521.6,490.4 514.3,503.7 512.6,506.5 506.4,490.4 501.4,472.5 498.5,452.5 497.9,441.4 498.2,430.2ZM580,428 605.4,428 601.9,448 600.1,454.7 593.9,474.5 589.5,468.1 585.9,461.4 584.9,459.2 582.3,448 580.9,443.6 580.1,430.2ZM615,428 642.9,428 642.6,454.7 641,459.2 639.8,461.4 639.1,463 638.7,463.6 632.9,477 630.6,481.5 630.1,482.9 629.2,481.5 625.5,477 621.1,470.3 617.7,457 615.2,430.2ZM612,597.3 612,597.3 614.5,608.4 617.6,641.8 615.2,675.2 613.3,686.3 612,690.8 612,690.8 610.1,641.8 611.9,599.5Z" fill="#7bb6d6" fill-rule="evenodd"/>
<path d="M93.7,428 131,428 131.2,430.2 131.9,432.5 131.7,445.8 128.9,459.2 127.4,463.6 125.1,468.1 123.8,470.3 119.9,472.5 116.8,474.8 114.8,476.6 110.7,472.5 107.3,468.1 105.7,465.2 103.5,457 100.8,450.3 98.3,445.8 96.7,443.6 94.1,430.2ZM152.1,428 186.1,428 183.2,452.5 180.2,465.9 172.5,490.4 169,506.5 166,472.5 163.6,465.9 161.4,461.4 160,459.2 153.8,441.4 152.4,430.2ZM188.9,428 229.5,428 229.8,441.4 229.6,443.6 227.9,450.3 226.2,461.4 223.3,472.5 220.2,470.3 217.8,468.1 215.9,465.9 214.2,463.6 206.3,490.4 205.2,495.1 200.8,488.1 196.1,482 189.2,430.2ZM269,428 296.3,428 295.6,441.8 295.3,443.6 286.5,471.8 281,470.3 277.5,468.9 277.1,468.1 275.3,465.9 274.1,463.6 272.4,459.2 270.4,448 269.1,430.2ZM313.7,428 313.7,428 313.7,428 313.7,428ZM381.3,428 403.1,428 401.4,443.6 400.4,448 398.9,452.5 397.7,454.7 394.7,459.2 393.6,461.4 392,463.6 389.5,465.9 386,467.9 381.7,430.2ZM501.1,428 569.4,428 569.1,436.9 566.8,448.7 563.8,457 560.5,463.6 557.5,468.1 553.4,474.8 548.7,480.6 545.8,477 543,472.5 539.7,465.5 535.4,477 530.6,486.6 525.3,477 521.6,468.7 518.2,474.8 515.1,479.2 512.6,482.6 508.2,472.5 502.5,452.5 500.7,441.4 501,430.2ZM582.7,428 600.2,428 600.2,439.1 600,441.4 598.8,445.8 596.4,452.5 593.9,457.7 593.4,457 586.2,450.3 584.9,449.3 582.9,443.6 582.5,434.7 582.6,430.2ZM618.8,428 639.1,428 639.1,454.7 634.1,457 631.6,459.2 630.1,461.4 630.1,461.4 626.7,459.2 622.1,457 621.1,455.9 619,430.2Z" fill="#3c8abe" fill-rule="evenodd"/>
<path d="M155.1,428 181.1,428 178.1,448.4 175.1,459.2 172.6,465.9 170.3,470.3 169,472.5 167.3,465.9 165.7,461.4 163.4,457 162,454.7 160,452.5 157.7,445.8 156.7,441.4 155.4,430.2ZM197.9,428 225.6,428 226.7,439.1 226.4,443.6 225.5,445.8 223.3,450 214.2,448.3 205.2,450.3 202.8,445.8 200.4,439.1 198.3,430.2ZM274.7,428 290.2,428 287.9,441.4 286.5,446.6 277.5,445.8 275,430.2ZM384.2,428 398,428 395,444.1 386,445.3 384.5,430.2ZM504.8,428 566.8,428 566.8,436.9 558.7,454.7 557.8,456.5 554,459.2 551.7,461.4 548.7,465.3 541.7,452.5 539.7,449 536,452.5 534.5,454.7 533.4,457 532,461.4 530.6,468.8 528.9,461.4 528,459.2 526.7,457 524.8,454.7 521.6,452.5 512.6,466.3 504.5,443.6 503.5,441.4 503.5,441.4 504.4,430.2ZM587.2,428 596.3,428 597.3,436.9 597,441.4 595.3,445.8 593.9,448.6 589.7,445.8 584.9,443.6 584.9,433.3 586.1,430.2ZM115.1,432.5 123.8,430.3 127.9,432.5 128.6,439.1 127.8,445.8 124.8,457 123.8,459.6 122.5,459.2 117.8,457 114.8,454.7 112,448 110.6,443.6 111.5,439.1 112.3,436.9 113.6,434.7 114.8,433.2ZM630.1,432.5 630.1,432.5 630.8,436.9 630.1,442 629,436.9 629.5,434.7Z" fill="#1e61a5" fill-rule="evenodd"/>
<path d="M158.2,428 176.1,428 172.1,448 169,458.1 168,454.7 167,452.5 165.7,450.3 163.8,448 160.8,445.8 160,444.7 158.4,430.2ZM123.8,432.5 123.8,432.5 125.2,439.1 123.8,446.5 121.6,443.6 120.9,441.4 120.6,439.1 122.7,434.7ZM547.7,432.5 548.7,431.1 557.8,430.5 559.8,434.7 560.5,436.9 560.1,439.1 557.8,445.3 548.7,446.8 545.8,441.4 544.8,439.1 545.4,436.9 546.2,434.7ZM512.6,434.7 512.6,434.7 513.6,436.9 514.9,441.4 512.6,448.3 510.8,441.4 511.9,436.9ZM593.9,434.7 593.9,434.7 594.3,436.9 593.9,441.4 593.1,439.1 593,436.9ZM223,436.9 223.3,436.5 223.6,439.1 223.3,443.6 222.3,441.4 222,439.1Z" fill="#053061" fill-rule="evenodd"/>
<path d="M236.4,428 260.3,428 259.4,461.7 255.3,472.5 254.1,477 250.4,497.3 245.3,510.4 241.3,525.7 240,521.5 238.4,510.4 236.2,432.5 236.3,430.2ZM327.7,428 336.9,428 334.8,465.9 331.7,486.3 328.3,454.7 327.7,430.2ZM439.2,428 458,428 458.3,430.5 462.8,432.5 466.7,434.7 467.4,435.8 468.4,434.7 471.7,432.5 476.4,430.2 478.3,432.5 482.6,439.1 483.7,441.4 486,450.3 488.5,468.1 488.7,488.1 486.6,505.9 484.4,514.9 482.7,519.3 481.5,521.5 480,523.8 476.4,527.7 473.7,521.5 471.4,512.6 467.4,479 458.3,478.6 457.2,485.9 455.9,490.4 455.2,494.8 451.9,552.7 449.6,568.3 449.3,569.9 443.4,490.4 442,483.7 439.2,430.2ZM666.5,428 800.7,428 801.6,434.7 801.9,435 808.1,439.1 808.5,441.4 808.8,448 810.9,454.2 811.4,454.7 813.3,459.2 814.6,463.6 815,468.1 816,472.5 817.1,474.8 820,478.5 829,476.2 829,598.5 823.6,595 820,592.3 816.1,575 813.3,526 813.4,510.4 812.3,505.9 810.9,502.4 806.1,510.4 805.3,512.6 804.1,514.9 801.9,517.5 797.1,530.4 792.8,548.3 783.8,537.7 776.5,541.6 774.8,542.8 765.7,542.3 758.3,559.4 756.7,562.5 738.6,560.6 729.5,575.4 726.1,577.2 723.2,579.4 720.5,582.6 714.7,575 711.5,571.4 706,532.7 702.4,518.7 696.6,523.8 693.4,526 688,534.9 684.3,542.5 675.3,534.4 666.3,518.9 657.2,517.6 654.3,497 653.6,445.8 653.9,443.6 654.8,441.4 657.2,437.1 658.5,436.9 666.3,434.8 666.4,430.2ZM363.2,432.5 367.9,430.4 371,434.7 373.8,445.8 376,452.5 377,454.7 378.6,468.1 376.8,494.8 374.8,501.5 372.9,505.9 370.3,510.4 367.9,513.9 364.9,510.4 361.9,505.9 359.7,501.5 357.8,497 356.6,494.8 355,492.6 353.1,490.4 349.8,487.6 346.4,472.5 345.1,459.2 345.7,448 347,441.4 348.6,436.9 349.8,434.7 358.9,436.9 360.4,434.7ZM141.8,443.6 141.9,443 143,448 143.7,450.3 144.7,452.5 146.2,454.7 150.9,459.2 150.9,508.2 141.9,531.5 138.6,483.7 138.7,474.8 141.5,445.8ZM575.8,450.3 575.9,450.1 575.9,479.9 575.8,452.5ZM286.5,632.9 286.5,632.4 289,695.3 287.5,739.8 285.4,739.8 284.1,693 286.4,635.1Z" fill="#fac8af" fill-rule="evenodd"/>
<path d="M237.6,428 257,428 255.7,445.8 252.5,461.4 250.4,468.1 246.2,490.4 244.5,497 241.3,506.4 237.4,432.5 237.5,430.2ZM330.8,428 332.9,428 331.7,454.7 330.9,430.2ZM442,428 455.1,428 455.6,430.2 456.5,432.5 458.3,434.7 463.3,445.8 461.9,452.5 460.3,457 459.1,459.2 458.3,460.2 453.7,481.5 453.1,483.7 450.9,488.1 449.3,490.4 447.9,488.1 446,483.7 443.6,468.1 441.8,434.7 441.9,430.2ZM670.3,428 799,428 799.7,434.7 801.3,436.9 806.2,439.1 806.8,441.4 807,448 810.9,463.6 812.1,472.5 812.2,479.2 811.6,483.7 809.3,490.4 807.1,494.8 805.7,497 804,499.3 801.9,501.5 799.4,510.4 792.8,528.8 785.6,523.8 783.8,522.7 774.8,522.7 771.5,521.5 765.7,518.7 764.9,519.3 756.7,528.8 747.6,528.2 742.2,530.4 738.6,531.5 734,543.8 729.5,552.3 726.9,550.5 724.4,548.3 722.6,546 720.5,542.9 715.6,539.4 713.4,537.1 711.5,534.6 707.2,517.1 705.5,512.6 702.4,506.3 693.4,510.4 684.3,518.7 680,514.9 678.2,512.6 676.8,510.4 675.3,507.6 672,503.7 669.1,499.3 667.1,494.8 666.3,492.6 664,490.4 662.4,488.1 660.1,483.7 658.1,477 657.2,472.5 657.2,445.7 658.2,443.6 661.1,441.4 666.3,439.6 669,436.9 669.5,434.7 670,430.2ZM366.6,436.9 367.9,434.7 375.3,465.9 376.2,468.1 367.9,498.1 359.7,472.5 359.6,454.7 362.5,445.8 365.4,439.1ZM473.2,439.1 476.4,437.2 478.3,439.1 480.1,441.4 484.8,465.9 485.4,468.1 485.4,488.2 478.7,503.7 476.4,510.4 471.8,479.2 470,472.5 469.3,459.2 469.7,445.8 471,441.4ZM349.6,450.3 349.8,448.9 353,452.5 355.6,454.7 356.6,459.2 356.1,461.4 355.4,463.6 354,465.9 351,468.1 349.8,468.4 348.7,459.2 349.4,452.5ZM141.8,463.6 141.9,462.7 144.1,474.8 141.9,488.6 141.2,474.8 141.7,465.9ZM826.7,490.4 829,488.8 829,566.5 820,562.1 817.4,526 819,499.3 820,494.7 823.3,492.6Z" fill="#eb9172" fill-rule="evenodd"/>
<path d="M238.9,428 252.8,428 250.4,445.8 241.3,488.5 238.6,432.5 238.7,430.2ZM445.7,428 452.2,428 454,432.5 455.4,434.7 456.7,445.8 453.1,468.1 449.3,482.1 446.4,468.1 444,443.6 444.2,434.7 444.4,432.5 445,430.2ZM674.1,428 679.2,428 682.2,432.5 683.3,434.7 684.3,435 685.3,434.7 687.8,430.2 689.5,428 732.9,428 738.1,459.2 738.6,461.4 742,452.5 745.8,436.9 747.2,428 797.3,428 797.9,434.7 799.1,436.9 804.3,439.1 805.1,441.4 805.2,448 807.8,463.6 808.5,472.5 806.5,483.7 805.8,485.9 803.4,490.4 801.9,492.6 798.3,501.5 796,508.2 792.8,514.6 783.8,512.6 774.8,510.4 769.6,508.2 765.7,505.6 756.7,504.8 753.7,501.5 752.3,499.3 750.3,494.8 748.4,488.1 747.6,483.7 747.6,483.7 744.4,497 741.2,505.9 729.5,531.3 721.9,523.8 716.4,519.3 714.3,517.1 712.7,514.9 707.8,505.9 704.2,497 702.4,491.6 701,492.6 698.4,494.8 684.3,504.6 676.8,494.8 672.1,488.1 668.6,481.5 666,474.8 663.1,459.2 665.5,445.8 666.1,443.6 670.6,439.1 672.2,436.9 673.6,430.2ZM476,443.6 476.4,441.4 479.1,459.2 478.7,468.1 476.4,480.5 473.8,459.2 475.5,445.8ZM367.5,450.3 367.9,448 369.3,459.2 368.7,468.1 367.9,472.5 366,459.2 367.1,452.5ZM828.4,512.6 829,510.4 829,536.1 825.6,526 825.3,523.8 827.7,514.9Z" fill="#cf5246" fill-rule="evenodd"/>
<path d="M240.1,428 247.8,428 247.7,432.5 241.3,468.5 239.8,432.5 239.9,430.2ZM448,430.2 449.3,428 452.4,434.7 453.7,443.6 453.5,445.8 449.3,468.4 446.1,443.6 446.7,434.7 447.1,432.5ZM697.6,428 725.5,428 729.5,450.3 731,465.9 733.7,481.5 734.2,490.4 732.3,494.8 730.7,501.5 729.5,510.4 720.5,510.4 719.2,508.2 717.4,505.9 714.4,503.7 711.5,502.4 708,494.8 706.5,490.4 705.5,488.1 704.2,485.9 702.4,483.7 694.6,485.9 689.8,488.1 684.3,491.6 681.9,488.1 677.9,483.7 675.3,481.5 672.3,474.8 670.3,468.1 668.6,459.2 668.6,457 670.5,445.8 671.3,443.6 674.5,439.1 675.3,437.2 684.3,438.4 691.9,436.9 693.4,436.2 694.6,434.7 696.8,430.2ZM753.3,428 795.6,428 796,434.7 796.8,436.9 802.4,439.1 803.4,441.4 805,472.5 802.7,481.5 801.9,483.7 800.5,485.9 798.4,490.4 796.4,497 792.8,506.3 783.8,506.3 774.8,502.3 763.5,494.8 758.5,490.4 756.5,488.1 754.6,481.5 752.7,477 750.7,470.3 750.6,468.1 753.1,430.2Z" fill="#ab162a" fill-rule="evenodd"/>
<path d="M241.2,430.2 241.3,428 242.8,432.5 241.3,443.6 241,432.5ZM704.7,428 716.4,428 720,452.5 722.3,470.3 720.5,486.1 714.1,490.4 711.5,492.6 710.3,485.9 708.1,479.2 706.2,474.8 704.8,472.5 702.4,469 700.8,470.3 697.5,472.5 693.4,476.2 684.3,475.6 681.4,472.5 678.8,470.3 675.3,467.5 673.1,459.2 672.8,457 675.3,445.6 684.3,447.1 688.6,445.8 693.4,443.6 698.9,441.4 701.2,439.1 702.4,436.9 704.2,430.2ZM759.6,428 793.9,428 794.2,434.7 794.6,436.9 800.9,441.4 800.8,472.5 799.3,474.8 797,479.2 794.8,485.9 792.8,496.1 783.8,497.2 781.4,494.8 774.8,492.6 773.8,490.4 772.5,488.1 770.7,485.9 768.1,483.7 765.7,482 760.9,470.3 758.8,459.2 758.1,450.3 759.5,430.2ZM449.1,434.7 449.3,434.1 450.7,443.6 449.3,450.3 448.2,443.6 448.9,436.9Z" fill="#67001f" fill-rule="evenodd"/>
<path d="M260.3,428 259.4,461.7 255.3,472.5 254.1,477 250.4,497.3 245.3,510.4 241.3,525.7 240,521.5 238.4,510.4 236.2,432.5 236.4,428M336.9,428 334.8,465.9 331.7,486.3 328.3,454.7 327.7,428M458,428 458.3,430.5 462.8,432.5 466.7,434.7 467.4,435.8 468.4,434.7 471.7,432.5 476.4,430.2 478.3,432.5 482.6,439.1 483.7,441.4 486,450.3 488.5,468.1 488.7,488.1 486.6,505.9 484.4,514.9 482.7,519.3 481.5,521.5 480,523.8 476.4,527.7 473.7,521.5 471.4,512.6 467.4,479 458.3,478.6 457.2,485.9 455.9,490.4 455.2,494.8 451.9,552.7 449.6,568.3 449.3,569.9 443.4,490.4 442,483.7 439.2,428M800.7,428 801.6,434.7 801.9,435 808.1,439.1 808.5,441.4 808.8,448 810.9,454.2 811.4,454.7 813.3,459.2 814.6,463.6 815,468.1 816,472.5 817.1,474.8 820,478.5 829,476.2M363.2,432.5 367.9,430.4 371,434.7 373.8,445.8 376,452.5 377,454.7 378.6,468.1 376.8,494.8 374.8,501.5 372.9,505.9 370.3,510.4 367.9,513.9 364.9,510.4 361.9,505.9 359.7,501.5 357.8,497 356.6,494.8 355,492.6 353.1,490.4 349.8,487.6 346.4,472.5 345.1,459.2 345.7,448 347,441.4 348.6,436.9 349.8,434.7 358.9,436.9 360.4,434.7 363.2,432.5M141.8,443.6 141.9,443 143,448 143.7,450.3 144.7,452.5 146.2,454.7 150.9,459.2 150.9,508.2 141.9,531.5 138.6,483.7 138.7,474.8 141.8,443.6M575.8,450.3 575.9,450.1 575.9,479.9 575.8,450.3M829,598.5 823.6,595 820,592.3 816.1,575 813.3,526 813.4,510.4 812.3,505.9 810.9,502.4 806.1,510.4 805.3,512.6 804.1,514.9 801.9,517.5 797.1,530.4 792.8,548.3 783.8,537.7 776.5,541.6 774.8,542.8 765.7,542.3 758.3,559.4 756.7,562.5 738.6,560.6 729.5,575.4 726.1,577.2 723.2,579.4 720.5,582.6 714.7,575 711.5,571.4 706,532.7 702.4,518.7 696.6,523.8 693.4,526 688,534.9 684.3,542.5 675.3,534.4 666.3,518.9 657.2,517.6 654.3,497 653.6,445.8 653.9,443.6 654.8,441.4 657.2,437.1 658.5,436.9 666.3,434.8 666.5,428M285.4,739.8 284.1,693 286.5,632.4 289,695.3 287.5,739.8" fill="none" stroke="#000" stroke-width="2.7" stroke-linejoin="round"/>
<line x1="129.1" y1="517.1" x2="162.1" y2="517.1" stroke="#0000ff" stroke-width="5.5"/>
<line x1="237.5" y1="517.1" x2="270.5" y2="517.1" stroke="#0000ff" stroke-width="5.5"/>
<line x1="346.0" y1="517.1" x2="378.9" y2="517.1" stroke="#0000ff" stroke-width="5.5"/>
<line x1="454.7" y1="517.1" x2="487.7" y2="517.1" stroke="#0000ff" stroke-width="5.5"/>
<line x1="563.1" y1="517.1" x2="596.1" y2="517.1" stroke="#0000ff" stroke-width="5.5"/>
<line x1="671.6" y1="517.1" x2="704.5" y2="517.1" stroke="#0000ff" stroke-width="5.5"/>
<line x1="780.0" y1="517.1" x2="813.0" y2="517.1" stroke="#0000ff" stroke-width="5.5"/>
</g>
<rect x="78.6" y="428.0" width="750.4" height="311.8" fill="none" stroke="#000" stroke-width="1.3"/>
<line x1="73.6" y1="428.0" x2="78.6" y2="428.0" stroke="#000" stroke-width="1.3"/>
<text x="67.4" y="433.3" text-anchor="end" font-size="14.05">0</text>
<line x1="73.6" y1="472.5" x2="78.6" y2="472.5" stroke="#000" stroke-width="1.3"/>
<text x="67.4" y="477.8" text-anchor="end" font-size="14.05">−100</text>
<line x1="73.6" y1="517.1" x2="78.6" y2="517.1" stroke="#000" stroke-width="1.3"/>
<text x="67.4" y="522.4" text-anchor="end" font-size="14.05">−200</text>
<line x1="73.6" y1="561.6" x2="78.6" y2="561.6" stroke="#000" stroke-width="1.3"/>
<text x="67.4" y="566.9" text-anchor="end" font-size="14.05">−300</text>
<line x1="73.6" y1="606.2" x2="78.6" y2="606.2" stroke="#000" stroke-width="1.3"/>
<text x="67.4" y="611.5" text-anchor="end" font-size="14.05">−400</text>
<line x1="73.6" y1="650.7" x2="78.6" y2="650.7" stroke="#000" stroke-width="1.3"/>
<text x="67.4" y="656.0" text-anchor="end" font-size="14.05">−500</text>
<line x1="73.6" y1="695.3" x2="78.6" y2="695.3" stroke="#000" stroke-width="1.3"/>
<text x="67.4" y="700.6" text-anchor="end" font-size="14.05">−600</text>
<line x1="73.6" y1="739.8" x2="78.6" y2="739.8" stroke="#000" stroke-width="1.3"/>
<text x="67.4" y="745.1" text-anchor="end" font-size="14.05">−700</text>
<line x1="78.6" y1="739.8" x2="78.6" y2="744.8" stroke="#000" stroke-width="1.3"/>
<text transform="translate(75.7,760.4) rotate(-30)" text-anchor="end" font-size="14.05">2010</text>
<line x1="187.0" y1="739.8" x2="187.0" y2="744.8" stroke="#000" stroke-width="1.3"/>
<text transform="translate(184.1,760.4) rotate(-30)" text-anchor="end" font-size="14.05">2011</text>
<line x1="295.5" y1="739.8" x2="295.5" y2="744.8" stroke="#000" stroke-width="1.3"/>
<text transform="translate(292.6,760.4) rotate(-30)" text-anchor="end" font-size="14.05">2012</text>
<line x1="404.2" y1="739.8" x2="404.2" y2="744.8" stroke="#000" stroke-width="1.3"/>
<text transform="translate(401.3,760.4) rotate(-30)" text-anchor="end" font-size="14.05">2013</text>
<line x1="512.6" y1="739.8" x2="512.6" y2="744.8" stroke="#000" stroke-width="1.3"/>
<text transform="translate(509.7,760.4) rotate(-30)" text-anchor="end" font-size="14.05">2014</text>
<line x1="621.1" y1="739.8" x2="621.1" y2="744.8" stroke="#000" stroke-width="1.3"/>
<text transform="translate(618.2,760.4) rotate(-30)" text-anchor="end" font-size="14.05">2015</text>
<line x1="729.5" y1="739.8" x2="729.5" y2="744.8" stroke="#000" stroke-width="1.3"/>
<text transform="translate(726.6,760.4) rotate(-30)" text-anchor="end" font-size="14.05">2016</text>
<text transform="translate(18.3,583.9) rotate(-90)" text-anchor="middle" font-size="20.4">Depth (m)</text>
<text x="471.3" y="418.7" text-anchor="middle" font-size="26">Salinity monthly anomaly</text>
<text x="0.0" y="421.0" font-size="33.8" font-weight="bold" font-family="'Liberation Sans',Arial,Helvetica,sans-serif">B</text>
<rect x="875.2" y="696.50" width="14.0" height="28.70" fill="#1e61a5"/>
<rect x="875.2" y="668.20" width="14.0" height="28.70" fill="#3c8abe"/>
<rect x="875.2" y="639.90" width="14.0" height="28.70" fill="#7bb6d6"/>
<rect x="875.2" y="611.60" width="14.0" height="28.70" fill="#bbdaea"/>
<rect x="875.2" y="583.30" width="14.0" height="28.70" fill="#e6eff4"/>
<rect x="875.2" y="555.00" width="14.0" height="28.70" fill="#faeae1"/>
<rect x="875.2" y="526.70" width="14.0" height="28.70" fill="#fac8af"/>
<rect x="875.2" y="498.40" width="14.0" height="28.70" fill="#eb9172"/>
<rect x="875.2" y="470.10" width="14.0" height="28.70" fill="#cf5246"/>
<rect x="875.2" y="441.80" width="14.0" height="28.70" fill="#ab162a"/>
<path d="M875.2,442.0 L882.2,427.3 L889.2,442.0 Z" fill="#67001f"/>
<path d="M875.2,725.0 L882.2,739.0 L889.2,725.0 Z" fill="#053061"/>
<path d="M875.2,442.0 L882.2,427.3 L889.2,442.0 L889.2,725.0 L882.2,739.0 L875.2,725.0 Z" fill="none" stroke="#000" stroke-width="1.3" stroke-linejoin="miter"/>
<line x1="889.2" y1="470.3" x2="894.2" y2="470.3" stroke="#000" stroke-width="1.3"/>
<text x="899.5" y="475.6" font-size="14.2">0.16</text>
<line x1="889.2" y1="526.9" x2="894.2" y2="526.9" stroke="#000" stroke-width="1.3"/>
<text x="899.5" y="532.2" font-size="14.2">0.08</text>
<line x1="889.2" y1="583.5" x2="894.2" y2="583.5" stroke="#000" stroke-width="1.3"/>
<text x="899.5" y="588.8" font-size="14.2">0.00</text>
<line x1="889.2" y1="640.1" x2="894.2" y2="640.1" stroke="#000" stroke-width="1.3"/>
<text x="899.5" y="645.4" font-size="14.2">−0.08</text>
<line x1="889.2" y1="696.7" x2="894.2" y2="696.7" stroke="#000" stroke-width="1.3"/>
<text x="899.5" y="702.0" font-size="14.2">−0.16</text>
<text x="453.3" y="802.3" text-anchor="middle" font-size="20.4">Year</text>
</svg>
</body></html>
